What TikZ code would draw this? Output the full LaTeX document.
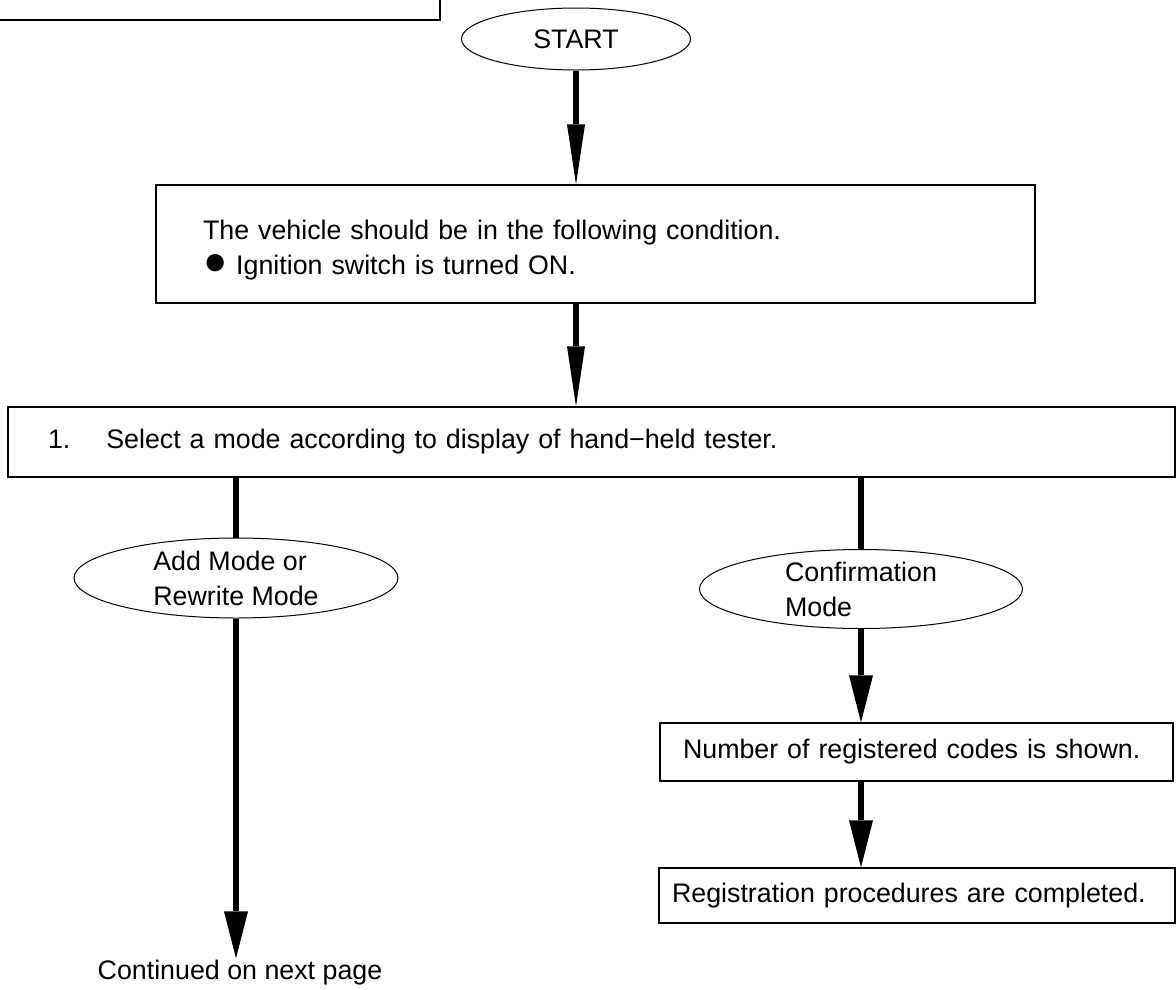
\documentclass[tikz,border=0pt]{standalone}
\usepackage{fontspec}
\setmainfont{Liberation Sans}
\usetikzlibrary{shapes.geometric,arrows.meta}
\tikzset{
  procbox/.style={draw,line width=1.3pt,inner sep=0pt,align=left},
  modeoval/.style={draw,ellipse,line width=1pt,inner sep=0pt,align=left},
  flowline/.style={line width=5.5pt},
  longarrow/.style={flowline,-{Triangle[length=60pt,width=18pt,line width=0pt]}},
  shortarrow/.style={flowline,-{Triangle[length=47pt,width=24pt,line width=0pt]}},
}
\begin{document}
\begin{tikzpicture}[x=1pt,y=-1pt,every node/.style={font=\fontsize{26.8}{35}\selectfont}]
	\useasboundingbox (0,0) rectangle (1176,989);
	\node[procbox,minimum width=450pt,minimum height=50pt] (note) at (215,-5) {};
	\node[modeoval,minimum width=229pt,minimum height=62pt] (start) at (576,39) {START};
	\node[procbox,minimum width=879pt,minimum height=118pt,text width=785pt] (cond) at (595.5,244) {\rule{0pt}{31pt}The vehicle should be in the following condition.\\\scalebox{1.5}{●} Ignition switch is turned ON.};
	\node[procbox,minimum width=1167pt,minimum height=70pt,text width=1087pt] (select) at (591.5,442) {1.\hspace{36pt}Select a mode according to display of hand−held tester.};
	\node[modeoval,minimum width=324pt,minimum height=80pt] (addmode) at (236,578) {Add Mode or\\Rewrite Mode};
	\node[inner sep=2pt] (cont) at (240,973) {Continued on next page};
	\node[modeoval,minimum width=323pt,minimum height=79pt] (confirm) at (861,589) {Confirmation\\Mode};
	\node[procbox,minimum width=513pt,minimum height=58pt,text width=467pt] (codes) at (916.5,752) {Number of registered codes is shown.};
	\node[procbox,minimum width=516pt,minimum height=55pt,text width=490pt] (done) at (917,895.5) {Registration procedures are completed.};
	\draw[longarrow] (start.south) -- (start.south |- cond.north);
	\draw[longarrow] (start |- cond.south) -- (start |- select.north);
	\draw[flowline] (select.south -| addmode) -- (addmode.north);
	\draw[shortarrow] (addmode.south) -- (addmode.south |- cont.north);
	\draw[flowline] (select.south -| confirm) -- (confirm.north);
	\draw[shortarrow] (confirm.south) -- (confirm.south |- codes.north);
	\draw[shortarrow] (codes.south -| confirm) -- (confirm |- done.north);
\end{tikzpicture}
\end{document}
